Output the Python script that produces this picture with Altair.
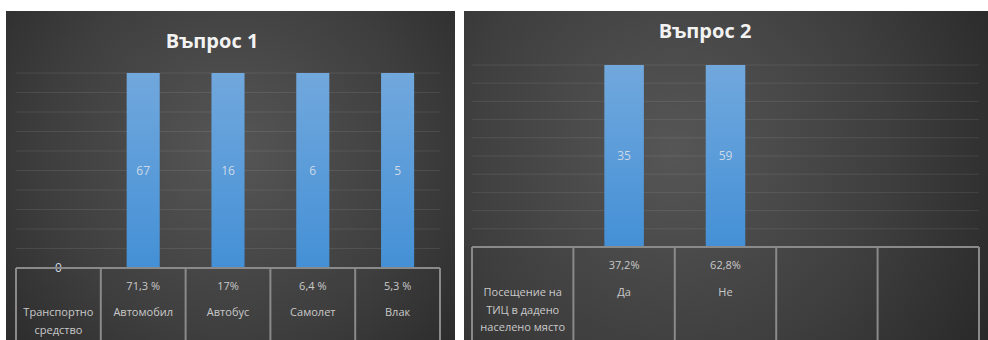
import altair as alt
import pandas as pd

# ---------------- data ----------------
q1_title = "Въпрос 1"
q1_labels = ["Транспортно\nсредство", "Автомобил", "Автобус", "Самолет", "Влак"]
q1_counts = [0, 67, 16, 6, 5]
q1_percent = ["", "71,3 %", "17%", "6,4 %", "5,3 %"]

q2_title = "Въпрос 2"
q2_labels = ["Посещение на\nТИЦ в дадено\nнаселено място", "Да", "Не", "", ""]
q2_counts = [None, 35, 59, None, None]
q2_percent = ["", "37,2%", "62,8%", "", ""]

grid_levels = [0.1, 0.2, 0.3, 0.4, 0.5, 0.6, 0.7, 0.8, 0.9, 1.0]

FONT = "Open Sans"
TABLE_COLOR = "#c9c9c9"
LINE_COLOR = "#8a8a8a"

bg_gradient = lambda cx: alt.RadialGradient(
    gradient="radial", x1=cx, y1=0.45, r1=0, x2=cx, y2=0.45, r2=0.75,
    stops=[alt.GradientStop(offset=0, color="#565656"),
           alt.GradientStop(offset=0.55, color="#3e3e3e"),
           alt.GradientStop(offset=1, color="#252525")])

bar_gradient = alt.LinearGradient(
    gradient="linear", x1=0, y1=0, x2=0, y2=1,
    stops=[alt.GradientStop(offset=0, color="#71a8dd"),
           alt.GradientStop(offset=1, color="#4490d6")])


def panel(title, labels, counts, percent, W, H, x0, x1, base, top,
          title_x, title_y, pct_y, name_y, line_h, cx):
    keys = [f"c{i}" for i in range(len(labels))]
    df = pd.DataFrame({"key": keys, "label": labels, "count": counts, "pct": percent})
    bars = df.dropna(subset=["count"]).copy()
    bars["count"] = bars["count"].astype(int)
    tot = bars.groupby("key")["count"].transform("sum")
    bars["share"] = (bars["count"] / tot).fillna(0)

    xs = alt.Scale(domain=keys, range=[x0, x1], paddingInner=0, paddingOuter=0)
    ys = alt.Scale(domain=[0, 1], range=[base, top])
    one = pd.DataFrame({"a": [0]})

    bg = alt.Chart(one).mark_rect(color=bg_gradient(cx)).encode(
        x=alt.value(0), x2=alt.value(W), y=alt.value(0), y2=alt.value(H))

    grid = alt.Chart(pd.DataFrame({"level": grid_levels})).mark_rule(
        color="#ffffff", opacity=0.09, strokeWidth=1).encode(
        y=alt.Y("level:Q", scale=ys, axis=None),
        x=alt.value(x0), x2=alt.value(x1))

    bar = alt.Chart(bars).mark_bar(
        width=alt.RelativeBandSize(0.39), color=bar_gradient).encode(
        x=alt.X("key:N", scale=xs, axis=None),
        y=alt.Y("share:Q", scale=ys, axis=None))

    lab = alt.Chart(bars).transform_calculate(mid="datum.share / 2").mark_text(
        font=FONT, fontSize=12, color="#cdd9e6").encode(
        x=alt.X("key:N", scale=xs, axis=None),
        y=alt.Y("mid:Q", scale=ys, axis=None),
        text="count:Q")

    hline = alt.Chart(one).mark_rule(color=LINE_COLOR, strokeWidth=2).encode(
        x=alt.value(x0), x2=alt.value(x1), y=alt.value(base))

    vlines = alt.Chart(df).mark_rule(color=LINE_COLOR, strokeWidth=2).encode(
        x=alt.X("key:N", scale=xs, axis=None, bandPosition=0),
        y=alt.value(base), y2=alt.value(H))

    vlast = alt.Chart(one).mark_rule(color=LINE_COLOR, strokeWidth=2).encode(
        x=alt.value(x1), y=alt.value(base), y2=alt.value(H))

    pct = alt.Chart(df).mark_text(
        font=FONT, fontSize=11, color=TABLE_COLOR, baseline="middle").encode(
        x=alt.X("key:N", scale=xs, axis=None),
        y=alt.value(pct_y), text="pct:N")

    names = alt.Chart(df).mark_text(
        font=FONT, fontSize=11, color=TABLE_COLOR, baseline="middle",
        lineBreak="\n", lineHeight=line_h).encode(
        x=alt.X("key:N", scale=xs, axis=None),
        y=alt.value(name_y), text="label:N")

    ttl = alt.Chart(one).mark_text(
        text=title, font=FONT, fontSize=20, fontWeight="bold",
        color="#f2f2f2", baseline="middle").encode(
        x=alt.value(title_x), y=alt.value(title_y))

    return alt.layer(bg, grid, bar, lab, hline, vlines, vlast, pct, names, ttl
                     ).properties(width=W, height=H)


p1 = panel(q1_title, q1_labels, q1_counts, q1_percent,
           W=449, H=329, x0=10, x1=434, base=257, top=62,
           title_x=206, title_y=31, pct_y=276, name_y=302, line_h=18, cx=0.5)

p2 = panel(q2_title, q2_labels, q2_counts, q2_percent,
           W=524, H=329, x0=8, x1=515, base=236, top=54,
           title_x=241, title_y=21, pct_y=255, name_y=282, line_h=17.5, cx=0.4)

chart = alt.hconcat(p1, p2, spacing=9).properties(
    padding={"left": 6, "top": 11, "right": 0, "bottom": 0},
    background="white",
).configure_view(stroke=None)

chart.save("out.html", embed_options={"renderer": "svg", "actions": False})
